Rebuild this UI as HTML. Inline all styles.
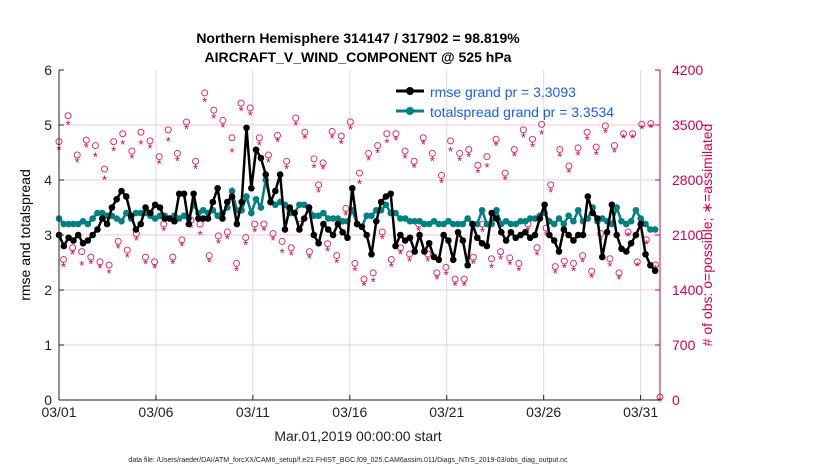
<!DOCTYPE html>
<html><head><meta charset="utf-8"><style>
body{margin:0;background:#fff;font-family:"Liberation Sans",Arial,sans-serif}
svg text{font-family:"Liberation Sans",Arial,sans-serif}
</style></head><body>
<svg id="chart" width="830" height="470">
<rect x="59" y="70" width="601" height="330" fill="#fff"/>
<g id="grid"></g><g id="obs"></g><g id="series"></g><g id="axes"></g>
<text x="358" y="43" text-anchor="middle" font-size="14" font-weight="bold">Northern Hemisphere 314147 / 317902 = 98.819%</text>
<text x="358" y="62" text-anchor="middle" font-size="14" font-weight="bold">AIRCRAFT_V_WIND_COMPONENT @ 525 hPa</text>
<text x="30" y="235" text-anchor="middle" font-size="14" transform="rotate(-90 30 235)">rmse and totalspread</text>
<text x="712" y="235" text-anchor="middle" font-size="14" fill="#d6004f" transform="rotate(-90 712 235)"># of obs: o=possible; ∗=assimilated</text>
<text x="358" y="441" text-anchor="middle" font-size="14" fill="#222">Mar.01,2019 00:00:00 start</text>
<text x="348" y="462" text-anchor="middle" font-size="7" fill="#222">data file: /Users/raeder/DAI/ATM_forcXX/CAM6_setup/f.e21.FHIST_BGC.f09_025.CAM6assim.011/Diags_NTrS_2019-03/obs_diag_output.nc</text>
<g>
<line x1="396" y1="91" x2="424" y2="91" stroke="#000" stroke-width="3"/><circle cx="410" cy="91" r="4" fill="#000"/>
<text x="430" y="97" font-size="14" fill="#1a5cff">rmse grand pr = 3.3093</text>
<line x1="396" y1="111" x2="424" y2="111" stroke="#008080" stroke-width="3"/><circle cx="410" cy="111" r="4" fill="#008080"/>
<text x="430" y="117" font-size="14" fill="#1a5cff">totalspread grand pr = 3.3534</text>
</g>
</svg>
<script>
const rmse=[3.0,2.8,2.95,2.9, 3.0,2.85,2.9,3.0, 3.1,3.3,3.2,3.5, 3.65,3.8,3.7,3.35, 3.1,3.2,3.5,3.4, 3.55,3.5,3.3,3.3, 3.25,3.75,3.75,3.2, 3.75,3.3,3.3,3.3, 3.6,3.85,3.3,3.6, 3.7,3.2,3.6,4.95, 3.85,4.55,4.4,4.1, 3.6,3.8,4.1,3.1, 3.5,3.4,3.1,3.3, 3.5,3.0,2.85,3.2, 3.1,3.0,3.2,3.05, 2.95,3.85,3.2,3.15, 3.0,2.65,3.25,3.6, 3.7,3.75,2.8,3.0, 2.9,2.95,2.7,3.0, 2.7,2.85,2.6,2.55, 3.0,2.9,2.55,3.05, 2.9,2.45,3.2,2.95, 2.85,2.8,3.4,3.3, 3.05,2.9,3.05,2.95, 3.0,3.05,2.95,3.0, 3.3,3.55,3.0,2.9, 2.7,3.1,3.0,2.9, 3.0,3.0,3.7,3.4, 3.3,2.6,3.05,3.55, 3.0,2.75,2.7,2.85, 3.0,3.2,2.65,2.45,2.35];
const spread=[3.3,3.2,3.2,3.2, 3.2,3.25,3.2,3.3, 3.4,3.4,3.35,3.35, 3.3,3.25,3.4,3.3, 3.4,3.4,3.4,3.35, 3.3,3.35,3.35,3.3, 3.35,3.3,3.35,3.3, 3.55,3.4,3.45,3.4, 3.45,3.35,3.4,3.5, 3.8,3.45,3.45,3.7, 3.4,3.65,3.5,4.0, 3.6,3.55,3.6,3.55, 3.4,3.4,3.55,3.55, 3.5,3.35,3.35,3.4, 3.3,3.3,3.3,3.25, 3.25,3.45,3.2,3.15, 3.35,3.35,3.45,3.45, 3.55,3.4,3.4,3.3, 3.3,3.25,3.25,3.25, 3.2,3.2,3.25,3.2, 3.2,3.25,3.2,3.2, 3.2,3.3,3.2,3.2, 3.45,3.2,3.2,3.45, 3.2,3.25,3.2,3.2, 3.25,3.25,3.3,3.3, 3.35,3.4,3.25,3.2, 3.3,3.2,3.35,3.25, 3.45,3.25,3.3,3.5, 3.25,3.3,3.25,3.2, 3.5,3.25,3.2,3.25, 3.45,3.3,3.2,3.1,3.1];
const possible=[3250,1750,3580,1900, 3080,1850,3270,1780, 3200,1720,2900,1680, 3250,1980,3350,1870, 3130,2080,3370,1780, 3260,1720,3060,2200, 3400,1780,3100,2000, 3500,2250,3000,2200, 3870,1800,3650,2050, 3520,2100,3300,1700, 3740,2030,3680,2200, 3300,2200,3080,2080, 3330,1980,3000,1900, 3550,2200,3370,1850, 3030,2700,2980,1950, 3380,1800,3320,2400, 3500,1700,2850,1500, 3100,1580,3200,2100, 3350,1750,3350,1900, 3130,1820,3000,2200, 3300,1820,3100,1580, 2820,1650,3260,1500, 3100,1500,3150,1780, 2950,2200,3060,1760, 3280,1850,2850,1770, 3150,1700,3400,2200, 3280,1900,3470,2150, 2700,1660,3150,1730, 2940,1700,3170,1800, 3370,1600,3180,2080, 3450,1760,3200,1580, 3350,2100,3350,1720, 3470,2000,3480,1680, 0];
const assimDelta=[50,40,60,30, 40,120,40,30, 90,30,80,50, 60,30,80,40, 40,30,100,30, 40,30,40,30, 90,30,40,30, 30,40,40,80, 60,30,50,40, 30,30,130,40, 40,40,40,40, 40,30,40,30, 30,90,40,40, 40,40,30,30, 60,40,30,40, 30,40,40,30, 40,40,80,30, 30,60,40,30, 60,40,30,30, 40,40,30,30, 30,40,40,30, 40,40,80,30, 40,30,40,30, 40,40,80,60, 30,40,30,30, 30,40,40,30, 40,40,70,40, 40,30,40,30, 30,40,40,30, 40,30,40,30, 30,40,30,30, 0];
const assimilated=possible.map((v,i)=>Math.max(0,v-(assimDelta[i]||0)));
const yTicksL=[0,1,2,3,4,5,6];
const yTicksR=[0,700,1400,2100,2800,3500,4200];
const xTickDays=[0,5,10,15,20,25,30];
const xTickLabels=["03/01","03/06","03/11","03/16","03/21","03/26","03/31"];

const NS="http://www.w3.org/2000/svg";
const X0=59,X1=660,Y0=400,Y1=70;
const xS=t=>X0+(t/31)*(X1-X0);
const yL=v=>Y0-(v/6)*(Y0-Y1);
const yR=v=>Y0-(v/4200)*(Y0-Y1);
function mk(tag,at,parent){const e=document.createElementNS(NS,tag);for(const k in at)e.setAttribute(k,at[k]);parent.appendChild(e);return e;}
const grid=document.getElementById('grid'),axes=document.getElementById('axes'),obs=document.getElementById('obs'),ser=document.getElementById('series');
xTickDays.forEach((d,i)=>{
 const g=mk('line',{x1:xS(d),x2:xS(d),y1:Y1,y2:Y0,stroke:'#dcdcdc','stroke-width':1},grid);
 
 
 const tk=mk('line',{x1:xS(d),x2:xS(d),y1:Y0,y2:Y0-5,stroke:'#222'},axes);
 
 
 const t=mk('text',{x:xS(d),y:Y0+17,'text-anchor':'middle','font-size':14,fill:'#222'},axes);t.textContent=xTickLabels[i];
 
 
});
yTicksR.forEach(v=>{
 if(v>0&&v<4200){const g=mk('line',{x1:X0,x2:X1,y1:yR(v),y2:yR(v),stroke:'#f5c8d8','stroke-width':1},grid);
 
 }
 const t=mk('text',{x:X1+12,y:yR(v)+5,'font-size':14,fill:'#d6004f'},axes);t.textContent=v;
 
 
 const tk=mk('line',{x1:X1,x2:X1-5,y1:yR(v),y2:yR(v),stroke:'#d6004f'},axes);
 
 
});
yTicksL.forEach(v=>{
 const t=mk('text',{x:X0-7,y:yL(v)+5,'text-anchor':'end','font-size':14,fill:'#222'},axes);t.textContent=v;
 
 
 const tk=mk('line',{x1:X0,x2:X0+5,y1:yL(v),y2:yL(v),stroke:'#222'},axes);
 
 
});
const la=mk('line',{x1:X0,x2:X0,y1:Y1,y2:Y0,stroke:'#222'},axes);


const ra=mk('line',{x1:X1,x2:X1,y1:Y1,y2:Y0,stroke:'#d6004f'},axes);


const xa=mk('line',{x1:X0,x2:X1,y1:Y0,y2:Y0,stroke:'#222'},axes);


const nObs=possible.length;
possible.forEach((v,i)=>{
 const t=i*31/(nObs-1);
 const c=mk('circle',{cx:xS(t),cy:yR(v)-3,r:3,fill:'none',stroke:'#e0306a','stroke-width':1},obs);
 
 
 const s=mk('text',{x:xS(t),y:yR(assimilated[i])+6,'text-anchor':'middle','font-size':13,fill:'#d6004f'},obs);s.textContent='*';
 
 
});
function line(arr,color,name){
 const n=arr.length;
 const tx=i=>xS(i*30.75/(n-1));
 const pts=arr.map((v,i)=>tx(i)+','+yL(v)).join(' ');
 const p=mk('polyline',{points:pts,fill:'none',stroke:color,'stroke-width':2.5},ser);
 
 
 arr.forEach((v,i)=>{const c=mk('circle',{cx:tx(i),cy:yL(v),r:3.3,fill:color},ser);
 
 });
}
line(spread,'#008080','totalspread');
line(rmse,'#000000','rmse');
</script>
</body></html>
